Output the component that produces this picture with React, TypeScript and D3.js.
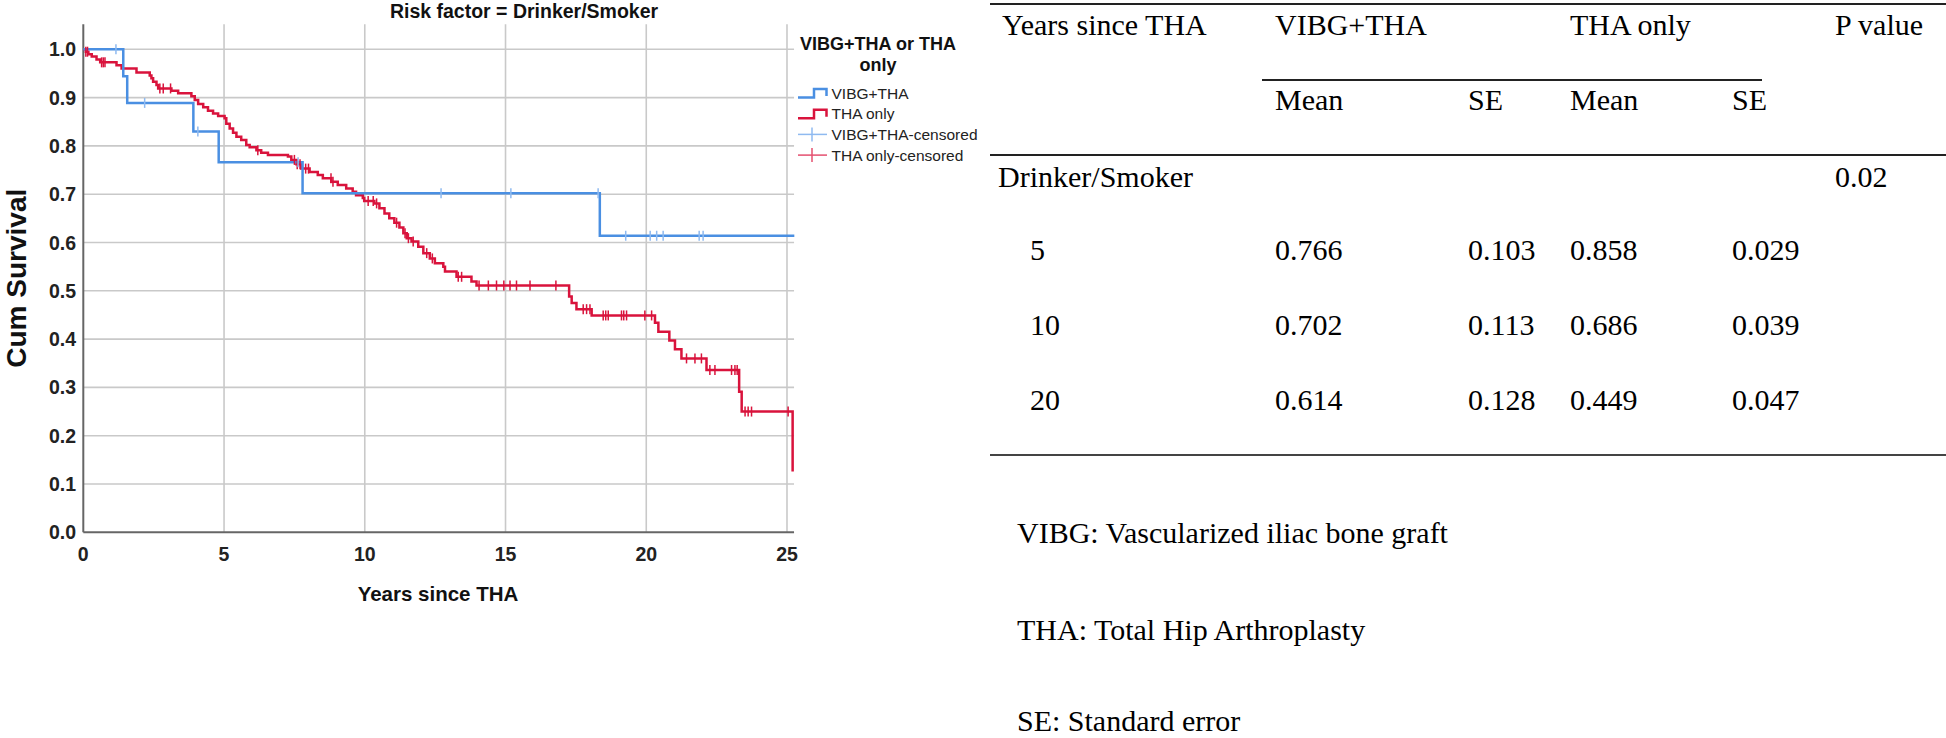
import React from 'react';
import * as d3 from 'd3';

// ---------- data ----------
const xTicks = [0, 5, 10, 15, 20, 25];
const yTicks = [0, 0.1, 0.2, 0.3, 0.4, 0.5, 0.6, 0.7, 0.8, 0.9, 1.0];

const vibgTimes = [0, 1.42, 1.56, 3.91, 4.81, 7.79, 18.35];
const vibgSurv = [1.0, 0.944, 0.889, 0.830, 0.766, 0.702, 0.614];
const vibgEnd = 25.26;
const vibgCensor = [1.16, 2.18, 4.07, 7.63, 12.71, 15.19, 18.29, 19.27, 20.14, 20.37, 20.6, 21.88, 22.02];

const thaTimes = [0, 0.09, 0.18, 0.3, 0.47, 0.6, 1.18, 1.36, 1.89, 2.36, 2.42, 2.48, 2.6, 2.66, 3.13, 3.37, 3.84, 3.96, 4.08, 4.26, 4.43, 4.61, 4.79, 5.02, 5.08, 5.2, 5.32, 5.44, 5.61, 5.79, 5.91, 6.15, 6.32, 6.56, 7.27, 7.39, 7.57, 7.74, 8.04, 8.33, 8.51, 8.81, 9.04, 9.34, 9.57, 9.69, 9.93, 9.98, 10.34, 10.52, 10.7, 10.87, 11.05, 11.23, 11.37, 11.49, 11.66, 11.9, 12.08, 12.31, 12.49, 12.79, 12.85, 13.26, 13.79, 13.97, 17.26, 17.35, 17.52, 18.06, 20.31, 20.43, 20.82, 21.02, 21.25, 22.14, 23.3, 23.39, 25.2];
const thaSurv = [1.0, 0.995, 0.99, 0.985, 0.979, 0.973, 0.967, 0.96, 0.952, 0.946, 0.94, 0.933, 0.926, 0.919, 0.914, 0.909, 0.903, 0.895, 0.887, 0.88, 0.873, 0.867, 0.862, 0.857, 0.846, 0.836, 0.827, 0.819, 0.812, 0.802, 0.797, 0.791, 0.786, 0.781, 0.778, 0.771, 0.762, 0.753, 0.746, 0.74, 0.733, 0.726, 0.719, 0.712, 0.705, 0.698, 0.692, 0.686, 0.681, 0.671, 0.66, 0.65, 0.641, 0.631, 0.619, 0.609, 0.602, 0.591, 0.578, 0.567, 0.557, 0.55, 0.54, 0.529, 0.519, 0.511, 0.488, 0.475, 0.462, 0.449, 0.434, 0.415, 0.397, 0.379, 0.36, 0.336, 0.291, 0.25, 0.126];
const thaEnd = 25.2;
const thaCensor = [0.09, 0.15, 0.65, 0.71, 0.77, 2.72, 2.84, 3.1, 6.2, 7.5, 7.6, 7.7, 7.9, 8.0, 8.8, 8.87, 10.12, 10.3, 10.42, 11.13, 11.43, 11.55, 11.72, 12.2, 12.4, 13.32, 13.44, 14.06, 14.39, 14.68, 14.94, 15.16, 15.39, 15.87, 16.79, 17.76, 17.88, 18.0, 18.47, 18.56, 18.65, 19.12, 19.2, 19.3, 19.95, 20.19, 21.43, 21.73, 21.96, 22.26, 22.44, 23.03, 23.15, 23.23, 23.51, 23.62, 23.74, 25.04];

const legendLabels = ['VIBG+THA', 'THA only', 'VIBG+THA-censored', 'THA only-censored'];

const tableYears = ['5', '10', '20'];
const vibgMean = ['0.766', '0.702', '0.614'];
const vibgSE = ['0.103', '0.113', '0.128'];
const thaMean = ['0.858', '0.686', '0.449'];
const thaSE = ['0.029', '0.039', '0.047'];
const pValue = '0.02';
const footnotes = ['VIBG: Vascularized iliac bone graft', 'THA: Total Hip Arthroplasty', 'SE: Standard error'];

// ---------- styles ----------
const BLUE = '#4a8fe2';
const RED = '#d9133c';
const BLUE_C = '#8fbaf0';
const RED_C = '#e4506f';
const SANS = '"Liberation Sans", Arial, sans-serif';
const SERIF = '"Liberation Serif", "Times New Roman", serif';

function survAt(t: number, times: number[], surv: number[]) {
  let v = surv[0];
  for (let i = 0; i < times.length; i++) if (times[i] <= t) v = surv[i];
  return v;
}

export default function App() {
  const W = 1946, H = 738;
  const x = d3.scaleLinear().domain([0, 25]).range([83.3, 787]);
  const y = d3.scaleLinear().domain([0, 1]).range([532.3, 49.3]);
  const top = y(1.052), right = x(25.25);

  const line = d3.line<[number, number]>().x(d => x(d[0])).y(d => y(d[1])).curve(d3.curveStepAfter);
  const vibgPts: [number, number][] = vibgTimes.map((t, i) => [t, vibgSurv[i]] as [number, number]);
  vibgPts.push([vibgEnd, vibgSurv[vibgSurv.length - 1]]);
  const thaPts: [number, number][] = thaTimes.map((t, i) => [t, thaSurv[i]] as [number, number]);
  thaPts.push([thaEnd, thaSurv[thaSurv.length - 1]]);

  // table layout
  const colX = { years: 1002, yr: 1030, vm: 1275, vse: 1468, tm: 1570, tse: 1732, p: 1835 };
  const rowY = [260, 335, 410];
  const fnY = [543, 640, 731];

  return (
    <svg width={W} height={H} style={{ position: 'absolute', left: 0, top: 0, background: '#fff' }}>
      <rect x={0} y={0} width={W} height={H} fill="#fff" />
      {/* gridlines */}
      {yTicks.filter(v => v > 0).map(v => (
        <line key={'gy' + v} x1={x(0)} x2={right} y1={y(v)} y2={y(v)} stroke="#c9c9c9" strokeWidth={1.6} />
      ))}
      {xTicks.filter(v => v > 0).map(v => (
        <line key={'gx' + v} x1={x(v)} x2={x(v)} y1={top} y2={y(0)} stroke="#c9c9c9" strokeWidth={1.6} />
      ))}
      {/* axes */}
      <line x1={x(0)} x2={x(0)} y1={top} y2={y(0)} stroke="#666" strokeWidth={2} />
      <line x1={x(0)} x2={right} y1={y(0)} y2={y(0)} stroke="#666" strokeWidth={2} />
      {/* tick labels */}
      {yTicks.map(v => (
        <text key={'yl' + v} x={76} y={y(v) + 7} textAnchor="end" fontFamily={SANS} fontSize={19.5} fontWeight="bold" fill="#222">{v.toFixed(1)}</text>
      ))}
      {xTicks.map(v => (
        <text key={'xl' + v} x={x(v)} y={561} textAnchor="middle" fontFamily={SANS} fontSize={19.5} fontWeight="bold" fill="#222">{v}</text>
      ))}
      {/* titles */}
      <text x={524} y={18} textAnchor="middle" fontFamily={SANS} fontSize={19.5} fontWeight="bold" fill="#111">Risk factor = Drinker/Smoker</text>
      <text x={438} y={601} textAnchor="middle" fontFamily={SANS} fontSize={20.5} fontWeight="bold" fill="#111">Years since THA</text>
      <text transform={`translate(26,${(top + y(0)) / 2}) rotate(-90)`} textAnchor="middle" fontFamily={SANS} fontSize={28} fontWeight="bold" fill="#111">Cum Survival</text>

      {/* curves */}
      <path d={line(thaPts) || ''} fill="none" stroke={RED} strokeWidth={2.5} />
      <path d={line(vibgPts) || ''} fill="none" stroke={BLUE} strokeWidth={2.5} />
      {thaCensor.map((t, i) => {
        const yy = y(survAt(t, thaTimes, thaSurv));
        return <line key={'tc' + i} x1={x(t)} x2={x(t)} y1={yy - 5} y2={yy + 5} stroke={RED} strokeWidth={1.5} />;
      })}
      {vibgCensor.map((t, i) => {
        const yy = y(survAt(t, vibgTimes, vibgSurv));
        return <line key={'vc' + i} x1={x(t)} x2={x(t)} y1={yy - 5} y2={yy + 5} stroke={BLUE_C} strokeWidth={1.5} />;
      })}

      {/* legend */}
      <text x={878} y={50} textAnchor="middle" fontFamily={SANS} fontSize={18} fontWeight="bold" fill="#111">VIBG+THA or THA</text>
      <text x={878} y={71} textAnchor="middle" fontFamily={SANS} fontSize={18} fontWeight="bold" fill="#111">only</text>
      {legendLabels.map((lab, i) => {
        const cy = 93 + i * 20.7;
        const col = i === 0 ? BLUE : i === 1 ? RED : i === 2 ? BLUE_C : RED_C;
        return (
          <g key={'lg' + i}>
            {i < 2 ? (
              <path d={`M798,${cy + 4.5} H814 V${cy - 4} H826.5 V${cy + 3}`} fill="none" stroke={col} strokeWidth={2.5} />
            ) : (
              <g>
                <line x1={798} x2={827} y1={cy} y2={cy} stroke={col} strokeWidth={1.5} />
                <line x1={812} x2={812} y1={cy - 7} y2={cy + 7} stroke={col} strokeWidth={1.5} />
              </g>
            )}
            <text x={831.5} y={cy + 5.5} fontFamily={SANS} fontSize={15.5} fill="#222">{lab}</text>
          </g>
        );
      })}

      {/* table */}
      <g fontFamily={SERIF} fontSize={30} fill="#000">
        <line x1={990} x2={W} y1={4} y2={4} stroke="#222" strokeWidth={2} />
        <line x1={1262} x2={1762} y1={80} y2={80} stroke="#222" strokeWidth={2} />
        <line x1={990} x2={W} y1={155} y2={155} stroke="#222" strokeWidth={2} />
        <line x1={990} x2={W} y1={455} y2={455} stroke="#444" strokeWidth={2} />
        <text x={colX.years} y={35}>Years since THA</text>
        <text x={colX.vm} y={35}>VIBG+THA</text>
        <text x={colX.tm} y={35}>THA only</text>
        <text x={colX.p} y={35}>P value</text>
        <text x={colX.vm} y={110}>Mean</text>
        <text x={colX.vse} y={110}>SE</text>
        <text x={colX.tm} y={110}>Mean</text>
        <text x={colX.tse} y={110}>SE</text>
        <text x={colX.years - 4} y={187}>Drinker/Smoker</text>
        <text x={colX.p} y={187}>{pValue}</text>
        {tableYears.map((yr, i) => (
          <g key={'row' + i}>
            <text x={colX.yr} y={rowY[i]}>{yr}</text>
            <text x={colX.vm} y={rowY[i]}>{vibgMean[i]}</text>
            <text x={colX.vse} y={rowY[i]}>{vibgSE[i]}</text>
            <text x={colX.tm} y={rowY[i]}>{thaMean[i]}</text>
            <text x={colX.tse} y={rowY[i]}>{thaSE[i]}</text>
          </g>
        ))}
        {footnotes.map((f, i) => (
          <text key={'fn' + i} x={1017} y={fnY[i]}>{f}</text>
        ))}
      </g>
    </svg>
  );
}
